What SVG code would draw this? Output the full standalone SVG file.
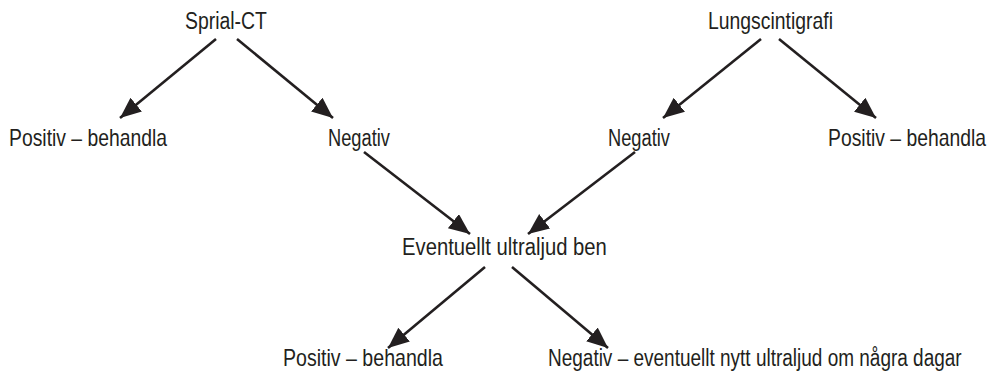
<svg xmlns="http://www.w3.org/2000/svg" width="993" height="374" viewBox="0 0 993 374">
<style>
text{font-family:"Liberation Sans",Arial,sans-serif;font-size:23px;fill:#231f20}
.c line{stroke:#231f20;stroke-width:2.6;marker-end:url(#ah)}
</style>
<defs>
<marker id="ah" markerUnits="userSpaceOnUse" markerWidth="24" markerHeight="20" refX="21" refY="9" orient="auto" viewBox="0 0 24 20">
<path d="M0,0 L21,9 L0,18 z" fill="#231f20"/>
</marker>
</defs>
<rect width="993" height="374" fill="#fff"/>
<g class="c" id="connectors">
<line x1="216" y1="39" x2="120" y2="118"/>
<line x1="237" y1="39" x2="333" y2="118"/>
<line x1="761" y1="39" x2="663" y2="118"/>
<line x1="779" y1="39" x2="876" y2="118"/>
<line x1="364" y1="152" x2="470" y2="234"/>
<line x1="635" y1="152" x2="528" y2="234"/>
<line x1="485" y1="267" x2="388" y2="348"/>
<line x1="512" y1="267" x2="608" y2="348"/>
</g>
<g id="n-spiral"><text transform="translate(185,29) scale(0.844,1)">Sprial-CT</text></g>
<g id="n-lung"><text transform="translate(708,29) scale(0.843,1)">Lungscintigrafi</text></g>
<g id="n-pos1"><text transform="translate(9,146) scale(0.841,1)">Positiv – behandla</text></g>
<g id="n-neg1"><text transform="translate(328,146) scale(0.795,1)">Negativ</text></g>
<g id="n-neg2"><text transform="translate(608,146) scale(0.795,1)">Negativ</text></g>
<g id="n-pos2"><text transform="translate(828,146) scale(0.841,1)">Positiv – behandla</text></g>
<g id="n-ultra"><text transform="translate(402,255) scale(0.881,1)">Eventuellt ultraljud ben</text></g>
<g id="n-pos3"><text transform="translate(283,366) scale(0.851,1)">Positiv – behandla</text></g>
<g id="n-neg3"><text transform="translate(548,366) scale(0.826,1)">Negativ – eventuellt nytt ultraljud om några dagar</text></g>
</svg>
